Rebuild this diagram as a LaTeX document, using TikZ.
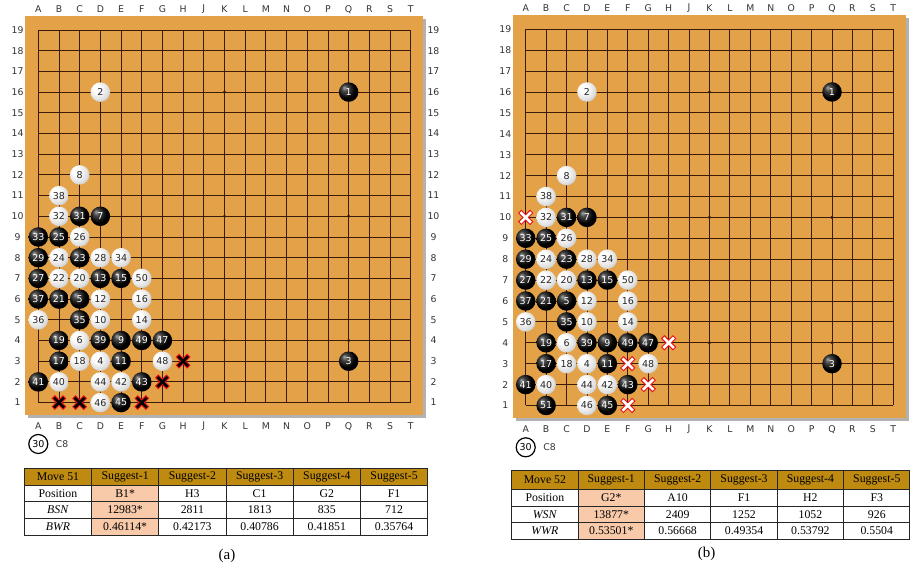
\documentclass[tikz,border=0pt]{standalone}
\usepackage{fontspec}
\setmainfont{Liberation Serif}
\newfontfamily\boardfont{DejaVu Sans}
\usetikzlibrary{positioning}

\definecolor{wood}{RGB}{228,162,72}
\definecolor{gridbrown}{RGB}{58,28,12}
\definecolor{headgold}{RGB}{190,138,16}
\definecolor{peach}{RGB}{248,202,170}
\definecolor{xred}{RGB}{235,20,20}

% Stone shadings
\pgfdeclareradialshading{blackstone}{\pgfpoint{-12bp}{12bp}}{color(0bp)=(black!35); color(8bp)=(black!72); color(22bp)=(black); color(50bp)=(black)}
\pgfdeclareradialshading{whitestone}{\pgfpoint{-12bp}{12bp}}{color(0bp)=(white); color(10bp)=(white); color(25bp)=(black!12); color(38bp)=(black!32); color(50bp)=(black!55)}

\tikzset{
  gridline/.style={gridbrown, line width=0.9pt},
  stone/.style={circle, minimum size=19.5pt, inner sep=0pt, font=\boardfont\fontsize{9.5}{9.5}\selectfont},
  bstone/.style={stone, shade, shading=blackstone, text=white},
  wstone/.style={stone, shade, shading=whitestone, text=black!85},
  coordlabel/.style={font=\boardfont\fontsize{9.3}{9.5}\selectfont, text=black!80},
  lastmove/.style={circle, draw=black, line width=1.2pt, fill=white, minimum size=19pt, inner sep=0pt, font=\boardfont\fontsize{9.5}{9.5}\selectfont},
  xouter/.style={xred, line width=4.8pt, line cap=rect},
  xblack/.style={black, line width=2.6pt, line cap=rect},
  xwhite/.style={white, line width=2.6pt, line cap=rect},
  tablerule/.style={black!85, line width=0.8pt},
  cell/.style={font=\fontsize{11.8}{12}\selectfont},
}

% Moves 1--50 (column/row/number)
\newcommand{\blacklist}{16/16/1, 16/3/3, 3/6/5, 4/10/7, 5/4/9, 5/3/11, 4/7/13, 5/7/15, 2/3/17, 2/4/19, 2/6/21, 3/8/23, 2/9/25, 1/7/27, 1/8/29, 3/10/31, 1/9/33, 3/5/35, 1/6/37, 4/4/39, 1/2/41, 6/2/43, 5/1/45, 7/4/47, 6/4/49}
\newcommand{\whitelist}{4/16/2, 4/3/4, 3/4/6, 3/12/8, 4/5/10, 4/6/12, 6/5/14, 6/6/16, 3/3/18, 3/7/20, 2/7/22, 2/8/24, 3/9/26, 4/8/28, 2/10/32, 5/8/34, 1/5/36, 2/11/38, 2/2/40, 5/2/42, 4/2/44, 4/1/46, 7/3/48, 6/7/50}

% Board with grid, star points and coordinates; #1 = prefix, #2 = 1 for right numbers
\newcommand{\goboard}[2]{
  \fill[black!30] ([shift={(3pt,-3pt)}]0.38,0.4) rectangle ([shift={(3pt,-3pt)}]19.6,19.66);
  \fill[wood] (0.38,0.4) rectangle (19.6,19.66);
  \foreach \i in {1,...,19} {
    \draw[gridline] (\i,1) -- (\i,19);
    \draw[gridline] (1,\i) -- (19,\i);
  }
  \foreach \c in {4,10,16} \foreach \r in {4,10,16} \fill[gridbrown] (\c,\r) circle (1.7pt);
  \foreach \l [count=\i] in {A,B,C,D,E,F,G,H,J,K,L,M,N,O,P,Q,R,S,T} {
    \node[coordlabel] (#1-top\l) at (\i,20) {\l};
    \node[coordlabel] (#1-bot\l) at (\i,-0.15) {\l};
  }
  \foreach \r in {1,...,19} {
    \node[coordlabel] (#1-left\r) at (0,\r) {\r};
    \ifnum#2=1 \node[coordlabel] (#1-right\r) at (20.1,\r) {\r};\fi
  }
  \foreach \c/\r/\n in \blacklist \node[bstone] (#1-s\n) at (\c,\r) {\n};
  \foreach \c/\r/\n in \whitelist \node[wstone] (#1-s\n) at (\c,\r) {\n};
  % move 30 was played at C8
  \node[lastmove] (#1-last) at (1,-1) {30};
  \node[coordlabel, right=4pt of #1-last] (#1-lastpos) {C8};
}

% Table of suggestions; #1 prefix, #2 left x, #3 column width, #4 top y, #5 header height, #6-#9 rows
\newcommand{\gotable}[9]{
  \pgfmathsetmacro\tx{#2}
  \pgfmathsetmacro\tw{#3}
  \pgfmathsetmacro\ty{#4}
  \pgfmathsetmacro\th{#4-#5}
  \pgfmathsetmacro\tr{#4-#5-3*16.67}
  \fill[headgold] (\tx,\ty) rectangle ({\tx+6*\tw},\th);
  \fill[peach] ({\tx+\tw},\th) rectangle ({\tx+2*\tw},\tr);
  \foreach \k in {1,2} \draw[tablerule] (\tx,{\th-\k*16.67}) -- ({\tx+6*\tw},{\th-\k*16.67});
  \draw[tablerule] (\tx,\th) -- ({\tx+6*\tw},\th);
  \foreach \k in {1,...,5} \draw[tablerule] ({\tx+\k*\tw},\ty) -- ({\tx+\k*\tw},\tr);
  \draw[tablerule, line width=1pt] (\tx,\ty) rectangle ({\tx+6*\tw},\tr);
  \foreach \t [count=\i from 0] in {#6} \node[cell] (#1-h\i) at ({\tx+(\i+0.5)*\tw},{(\ty+\th)/2}) {\t};
  \foreach \t [count=\i from 0] in {#7} \node[cell] (#1-p\i) at ({\tx+(\i+0.5)*\tw},{\th-8.33}) {\t};
  \foreach \t [count=\i from 0] in {#8} \node[cell] (#1-n\i) at ({\tx+(\i+0.5)*\tw},{\th-25}) {\t};
  \foreach \t [count=\i from 0] in {#9} \node[cell] (#1-w\i) at ({\tx+(\i+0.5)*\tw},{\th-41.67}) {\t};
}

\begin{document}
\begin{tikzpicture}[x=1pt, y=1pt]
  \useasboundingbox (0,0) rectangle (912,569);

  % Board (a): move 51
  \begin{scope}[shift={(17.61pt,145.7pt)}, x=20.69pt, y=20.7pt]
    \goboard{a}{1}
    % suggested moves
    \foreach \c/\r in {8/3, 7/2, 2/1, 3/1, 6/1} {
      \draw[xouter] (\c,\r) ++(-4.1pt,-4.1pt) -- ++(8.2pt,8.2pt) ++(0,-8.2pt) -- ++(-8.2pt,8.2pt);
      \draw[xblack] (\c,\r) ++(-4.1pt,-4.1pt) -- ++(8.2pt,8.2pt) ++(0,-8.2pt) -- ++(-8.2pt,8.2pt);
    }
  \end{scope}

  % Board (b): move 52
  \begin{scope}[shift={(505.28pt,142.6pt)}, x=20.42pt, y=20.9pt]
    \goboard{b}{0}
    \node[bstone] (b-s51) at (2,1) {51};
    % suggested moves
    \foreach \c/\r in {1/10, 8/4, 6/3, 7/2, 6/1} {
      \draw[xouter] (\c,\r) ++(-4.3pt,-4.3pt) -- ++(8.6pt,8.6pt) ++(0,-8.6pt) -- ++(-8.6pt,8.6pt);
      \draw[xwhite] (\c,\r) ++(-4.3pt,-4.3pt) -- ++(8.6pt,8.6pt) ++(0,-8.6pt) -- ++(-8.6pt,8.6pt);
    }
  \end{scope}

  % Tables
  \gotable{ta}{24.3}{67.23}{100.7}{16.7}
    {Move 51, Suggest-1, Suggest-2, Suggest-3, Suggest-4, Suggest-5}
    {Position, B1*, H3, C1, G2, F1}
    {\textit{BSN}, 12983*, 2811, 1813, 835, 712}
    {\textit{BWR}, 0.46114*, 0.42173, 0.40786, 0.41851, 0.35764}
  \gotable{tb}{511.7}{66.38}{98.3}{18.6}
    {Move 52, Suggest-1, Suggest-2, Suggest-3, Suggest-4, Suggest-5}
    {Position, G2*, A10, F1, H2, F3}
    {\textit{WSN}, 13877*, 2409, 1252, 1052, 926}
    {\textit{WWR}, 0.53501*, 0.56668, 0.49354, 0.53792, 0.5504}

  % Captions
  \node[font=\fontsize{15}{15}\selectfont] (capa) at (227,13) {(a)};
  \node[font=\fontsize{15}{15}\selectfont] (capb) at (706.7,15) {(b)};
\end{tikzpicture}
\end{document}
